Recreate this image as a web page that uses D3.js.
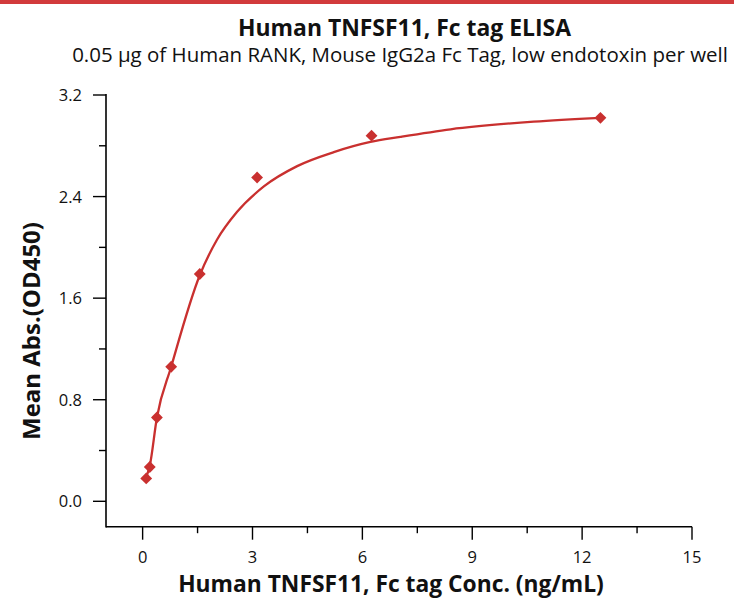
<!DOCTYPE html>
<html>
<head>
    <title>TNFSF11 ELISA</title>
    <script src="https://d3js.org/d3.v7.min.js"></script>
    <style>
        body { margin:0; background:#fff; }
        #chart { display:block; }
    </style>
</head>
<body>
<svg id="chart"></svg>
<script>

// measured points (ng/mL, OD450)
const conc = [0.098, 0.195, 0.39, 0.78, 1.56, 3.125, 6.25, 12.5];
const od = [0.18, 0.27, 0.66, 1.06, 1.79, 2.55, 2.88, 3.02];

// fitted curve
const curveX = [0.098, 0.195, 0.39, 0.78, 1.56, 2.03, 2.58, 3.31, 4.22, 5.22, 6.22, 7.04, 8.41, 10.68, 12.5];
const curveY = [0.19, 0.28, 0.66, 1.06, 1.78, 2.06, 2.28, 2.48, 2.64, 2.75, 2.83, 2.87, 2.93, 2.99, 3.02];

const xTicks = [0, 3, 6, 9, 12, 15];
const yTicks = [0.0, 0.8, 1.6, 2.4, 3.2];

const W = 734, H = 599;
const red = '#c9302f';
const font = '"Open Sans", sans-serif';

const svg = d3.select('#chart').attr('width', W).attr('height', H);

svg.append('rect')
    .attr('x', 0).attr('y', 0)
    .attr('width', W).attr('height', 4)
    .attr('fill', '#d23a3c');

const x = d3.scaleLinear().domain([-1, 15]).range([106, 692]);
const y = d3.scaleLinear().domain([-0.2, 3.2]).range([526.7, 95]);

// fit a text to a target width by changing its font size
function fitText(sel, target) {
    const w = sel.node().getComputedTextLength();
    const fs = parseFloat(sel.attr('font-size'));
    sel.attr('font-size', (fs * target / w).toFixed(2) + 'px');
}

// x axis
const xAxis = svg.append('g')
    .attr('transform', 'translate(0,526.7)');
xAxis.append('line')
    .attr('x1', 106).attr('x2', 692)
    .attr('stroke', '#000').attr('stroke-width', 1.6);
d3.range(0, 15.01, 1.5).forEach(v => {
    const major = xTicks.includes(v);
    xAxis.append('line')
        .attr('x1', x(v)).attr('x2', x(v))
        .attr('y1', 0).attr('y2', major ? 13 : 6.5)
        .attr('stroke', '#000').attr('stroke-width', 1.4);
});
xTicks.forEach(v => {
    xAxis.append('text')
        .attr('x', x(v)).attr('y', 36.5)
        .attr('text-anchor', 'middle')
        .attr('font-family', font)
        .attr('font-size', '16.5px')
        .attr('fill', '#111')
        .text(v);
});

// y axis
const yAxis = svg.append('g')
    .attr('transform', 'translate(106,0)');
yAxis.append('line')
    .attr('y1', 94).attr('y2', 527.5)
    .attr('stroke', '#000').attr('stroke-width', 1.6);
d3.range(0, 3.21, 0.4).forEach(v => {
    const major = yTicks.some(t => Math.abs(t - v) < 1e-6);
    yAxis.append('line')
        .attr('x1', major ? -13 : -7).attr('x2', 0)
        .attr('y1', y(v)).attr('y2', y(v))
        .attr('stroke', '#000').attr('stroke-width', 1.4);
});
yTicks.forEach(v => {
    yAxis.append('text')
        .attr('x', -24).attr('y', y(v) + 6)
        .attr('text-anchor', 'end')
        .attr('font-family', font)
        .attr('font-size', '16.5px')
        .attr('fill', '#111')
        .text(v.toFixed(1));
});

// curve
const line = d3.line()
    .x(d => x(d[0]))
    .y(d => y(d[1]))
    .curve(d3.curveMonotoneX);
svg.append('path')
    .datum(d3.zip(curveX, curveY))
    .attr('d', line)
    .attr('fill', 'none')
    .attr('stroke', red)
    .attr('stroke-width', 2.3);

// points
const diamond = d3.symbol().type(d3.symbolSquare).size(70);
svg.selectAll('.pt')
    .data(d3.zip(conc, od))
    .join('path')
    .attr('class', 'pt')
    .attr('d', diamond)
    .attr('transform', d => `translate(${x(d[0])},${y(d[1])}) rotate(45)`)
    .attr('fill', red);

// titles
const title = svg.append('text')
    .attr('x', 404.5).attr('y', 36)
    .attr('text-anchor', 'middle')
    .attr('font-family', font)
    .attr('font-weight', 'bold')
    .attr('font-size', '20px')
    .attr('fill', '#111')
    .text('Human TNFSF11, Fc tag ELISA');
fitText(title, 333);

const sub = svg.append('text')
    .attr('x', 400).attr('y', 62)
    .attr('text-anchor', 'middle')
    .attr('font-family', font)
    .attr('font-size', '16px')
    .attr('fill', '#111')
    .text('0.05 µg of Human RANK, Mouse IgG2a Fc Tag, low endotoxin per well');
fitText(sub, 656);

const xTitle = svg.append('text')
    .attr('x', 391).attr('y', 592)
    .attr('text-anchor', 'middle')
    .attr('font-family', font)
    .attr('font-weight', 'bold')
    .attr('font-size', '19px')
    .attr('fill', '#111')
    .text('Human TNFSF11, Fc tag Conc. (ng/mL)');
fitText(xTitle, 426);

const yTitle = svg.append('text')
    .attr('transform', 'translate(40,331) rotate(-90)')
    .attr('text-anchor', 'middle')
    .attr('font-family', font)
    .attr('font-weight', 'bold')
    .attr('font-size', '19px')
    .attr('fill', '#111')
    .text('Mean Abs.(OD450)');
fitText(yTitle, 218);

</script>
</body>
</html>
